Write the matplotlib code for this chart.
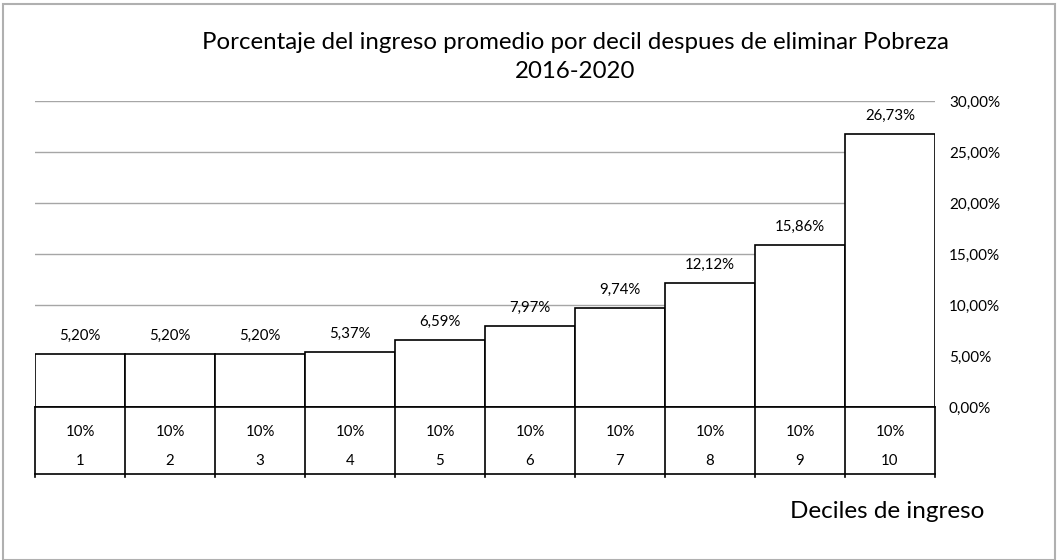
import matplotlib.pyplot as plt
from matplotlib.patches import Rectangle
import numpy as np

plt.rcParams["font.family"] = ["Lato", "DejaVu Sans"]

deciles = ["1", "2", "3", "4", "5", "6", "7", "8", "9", "10"]
poblacion = ["10%"] * 10
valores = [5.20, 5.20, 5.20, 5.37, 6.59, 7.97, 9.74, 12.12, 15.86, 26.73]
yticks = [0, 5, 10, 15, 20, 25, 30]

W, H = 1058, 560
fig = plt.figure(figsize=(W / 100, H / 100), dpi=100)
ax = fig.add_axes([35 / W, (H - 407) / H, 900 / W, 306 / H])

x = np.arange(len(valores))
ax.bar(x, valores, width=1.0, color="white", edgecolor="black", linewidth=1.2, zorder=3)
ax.set_xlim(-0.5, len(valores) - 0.5)
ax.set_ylim(0, 30)

for t in yticks[1:]:
    ax.axhline(t, color="#a6a6a6", lw=1, zorder=1)

ax.yaxis.tick_right()
ax.set_yticks(yticks)
ax.set_yticklabels([f"{t:.2f}%".replace(".", ",") for t in yticks], fontsize=11)
ax.tick_params(axis="y", length=0, pad=10)
ax.set_xticks([])
for s in ax.spines.values():
    s.set_visible(False)

for xi, v in zip(x, valores):
    ax.annotate(f"{v:.2f}%".replace(".", ","), (xi, v), xytext=(0, 13),
                textcoords="offset points", ha="center", va="center", fontsize=10.8)

# table below the axis
bottom = -6.57
ax.plot([-0.5, len(valores) - 0.5], [0, 0], color="black", lw=1.2, clip_on=False, zorder=4)
ax.plot([-0.5, len(valores) - 0.5], [bottom, bottom], color="black", lw=1.2, clip_on=False)
for b in np.arange(len(valores) + 1) - 0.5:
    ax.plot([b, b], [0, bottom - 0.25], color="black", lw=1.2, clip_on=False)
for xi, p, d in zip(x, poblacion, deciles):
    ax.text(xi, -2.45, p, ha="center", va="center", fontsize=10.8)
    ax.text(xi, -5.3, d, ha="center", va="center", fontsize=10.8)

fig.text(575 / W, 1 - 57 / H, "Porcentaje del ingreso promedio por decil despues de eliminar Pobreza\n2016-2020",
         ha="center", va="center", fontsize=17.3, linespacing=1.45)
fig.text(887 / W, 1 - 512 / H, "Deciles de ingreso", ha="center", va="center", fontsize=17.5)

fig.patches.append(Rectangle((3 / W, 0), 1052 / W, 1 - 4 / H, transform=fig.transFigure,
                             fill=False, edgecolor="#b0b0b0", lw=1.5))

fig.savefig("out.png", dpi=100)
